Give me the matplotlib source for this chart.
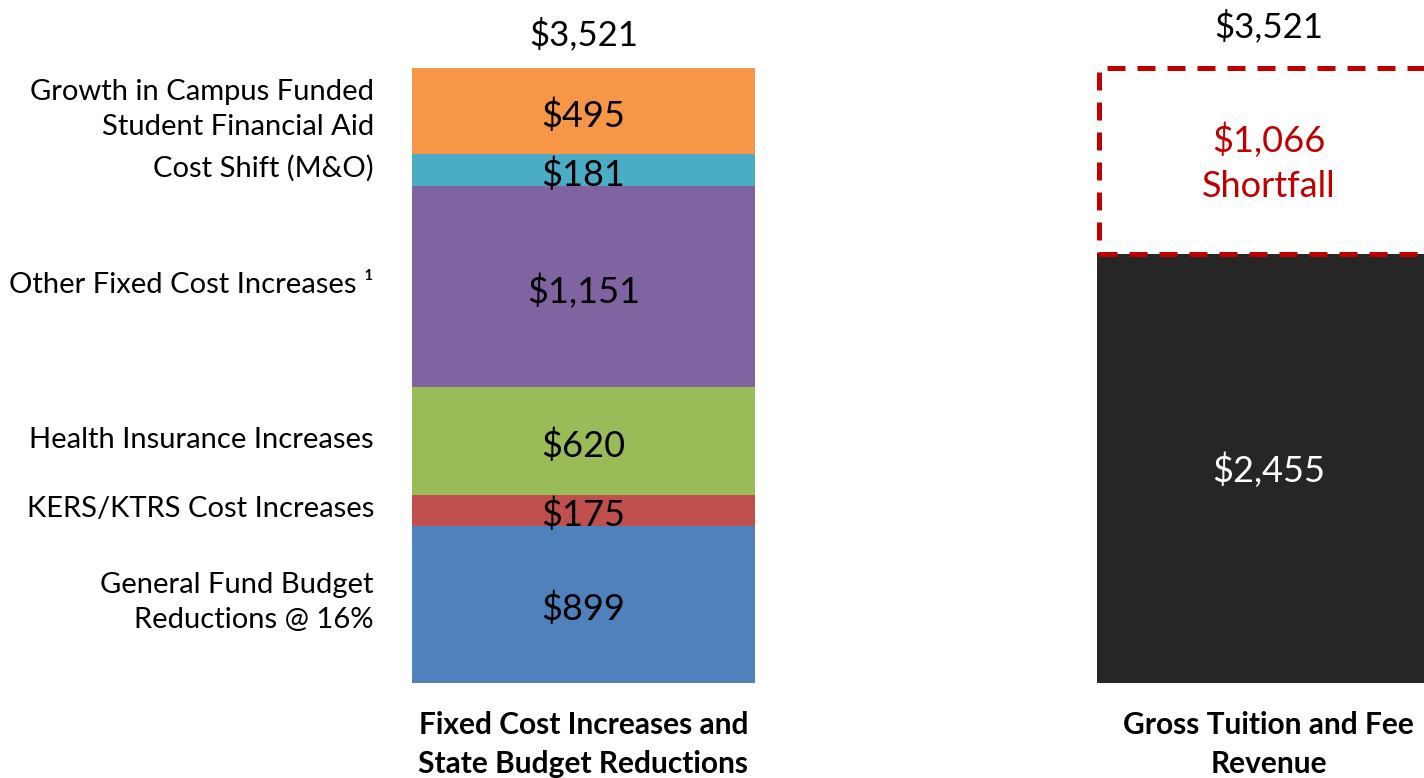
import matplotlib.pyplot as plt
from matplotlib.patches import Rectangle

plt.rcParams['font.family'] = ['Lato', 'DejaVu Sans']

# data (thousands of $)
seg_labels = ['General Fund Budget\nReductions @ 16%', 'KERS/KTRS Cost Increases',
              'Health Insurance Increases', 'Other Fixed Cost Increases \u00b9',
              'Cost Shift (M&O)', 'Growth in Campus Funded\nStudent Financial Aid']
seg_values = [899, 175, 620, 1151, 181, 495]
seg_colors = ['#4F81BD', '#C0504D', '#9BBB59', '#8064A2', '#4BACC6', '#F79646']

bar_names = ['Fixed Cost Increases and\nState Budget Reductions', 'Gross Tuition and Fee\nRevenue']
revenue = 2455
shortfall = 1066
total = sum(seg_values)

fig = plt.figure(figsize=(14.24, 7.78), dpi=100)
ax = fig.add_axes([0, 0, 1, 1])
ax.set_xlim(-0.8518, 1.2270)
ax.set_ylim(-543.9, 3910.3)
ax.axis('off')

w = 0.5007
bottom = 0
for lab, v, c in zip(seg_labels, seg_values, seg_colors):
    ax.bar(0, v, width=w, bottom=bottom, color=c, linewidth=0)
    mid = bottom + v / 2
    ax.text(0, mid - 25, '$' + format(v, ','), ha='center', va='center', fontsize=26, color='black')
    ax.text(-0.306, mid + 10, lab, ha='right', va='center', fontsize=21, color='black', linespacing=1.45)
    bottom += v

ax.text(0, total + 95, '$' + format(total, ','), ha='center', va='bottom', fontsize=25)

# right bar
ax.bar(1, revenue, width=w, color='#262626', linewidth=0)
ax.text(1, revenue / 2 - 10, '$' + format(revenue, ','), ha='center', va='center', fontsize=26, color='white')
box = Rectangle((1 - w / 2 + 0.003, revenue), w, shortfall, fill=False, edgecolor='#C00000',
                linewidth=3.6, linestyle=(0, (3.6, 2.4)), clip_on=False)
ax.add_patch(box)
ax.text(1, revenue + shortfall / 2 - 10, '$' + format(shortfall, ',') + '\nShortfall', ha='center', va='center',
        fontsize=26, color='#C00000', linespacing=1.45)
ax.text(1, total + 140, '$' + format(total, ','), ha='center', va='bottom', fontsize=25)

for i, name in enumerate(bar_names):
    ax.text(i, -160, name, ha='center', va='top', fontsize=21.5, fontweight='bold', linespacing=1.5)

fig.savefig('out.png', dpi=100)
